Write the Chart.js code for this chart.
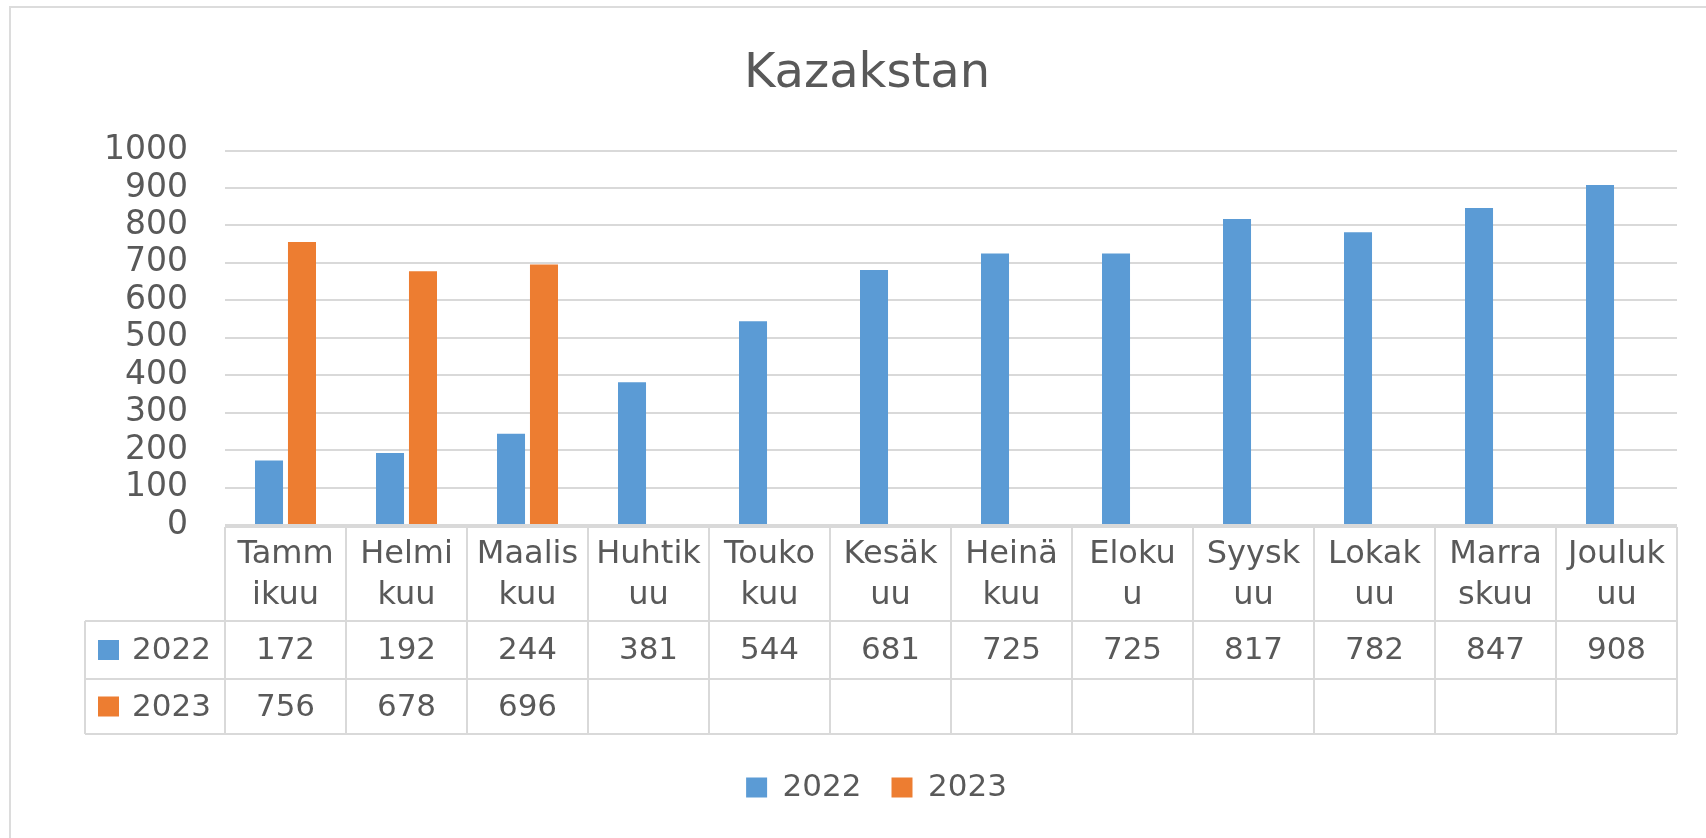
<!DOCTYPE html>
<html>
<head>
<meta charset="utf-8">
<script src="https://cdn.jsdelivr.net/npm/chart.js@4.4.1/dist/chart.umd.min.js"></script>
<style>
body { margin: 0; background: #fff; }
canvas { display: block; }
</style>
</head>
<body>
<canvas id="kazakstanChart" width="1706" height="838"></canvas>
<script>
var monthLabels = [['Tamm', 'ikuu'], ['Helmi', 'kuu'], ['Maalis', 'kuu'], ['Huhtik', 'uu'], ['Touko', 'kuu'], ['Kesäk', 'uu'],
    ['Heinä', 'kuu'], ['Eloku', 'u'], ['Syysk', 'uu'], ['Lokak', 'uu'], ['Marra', 'skuu'], ['Jouluk', 'uu']];
var seriesNames = ['2022', '2023'];
var values2022 = [172, 192, 244, 381, 544, 681, 725, 725, 817, 782, 847, 908];
var values2023 = [756, 678, 696, null, null, null, null, null, null, null, null, null];
var yMin = 0, yMax = 1000, yStep = 100;

var seriesColors = ['#5b9bd5', '#ed7d31'];
var textColor = '#595959';
var lineColor = '#d9d9d9';
var fontFamily = '"DejaVu Sans", sans-serif';

var kazakstanChart = document.getElementById('kazakstanChart').getContext('2d');

// draws the Excel-like data table under the plot, using the x scale for columns
var dataTablePlugin = {
    id: 'dataTable',
    afterLayout: function (chart) {
        // title and legend in the reference sit a bit right of the canvas middle
        chart.titleBlock.left += 57;
        chart.legend.left += 76;
    },
    afterDraw: function (chart) {
        var ctx = chart.ctx;
        var area = chart.chartArea;
        var xScale = chart.scales.x;
        var n = chart.data.labels.length;
        var cellW = (area.right - area.left) / n;
        var headTop = area.bottom + 2;
        var headBottom = headTop + 94;
        var row1Bottom = headBottom + 58;
        var row2Bottom = row1Bottom + 55;
        var labelLeft = 85;

        ctx.save();
        ctx.strokeStyle = lineColor;
        ctx.lineWidth = 2;
        ctx.beginPath();
        ctx.moveTo(area.left, headTop); ctx.lineTo(area.right, headTop);
        ctx.moveTo(labelLeft, headBottom); ctx.lineTo(area.right, headBottom);
        ctx.moveTo(labelLeft, row1Bottom); ctx.lineTo(area.right, row1Bottom);
        ctx.moveTo(labelLeft, row2Bottom); ctx.lineTo(area.right, row2Bottom);
        ctx.moveTo(labelLeft, headBottom); ctx.lineTo(labelLeft, row2Bottom);
        for (var i = 0; i <= n; i++) {
            var lx = area.left + i * cellW;
            ctx.moveTo(lx, headTop); ctx.lineTo(lx, row2Bottom);
        }
        ctx.stroke();

        ctx.fillStyle = textColor;
        ctx.textAlign = 'center';
        ctx.textBaseline = 'middle';
        var rowMids = [(headBottom + row1Bottom) / 2, (row1Bottom + row2Bottom) / 2];
        chart.data.labels.forEach(function (lab, i) {
            var cx = xScale.getPixelForValue(i);
            ctx.font = '32px ' + fontFamily;
            ctx.fillText(lab[0], cx, headTop + 28);
            ctx.fillText(lab[1], cx, headTop + 69);
            ctx.font = '31px ' + fontFamily;
            chart.data.datasets.forEach(function (ds, d) {
                if (ds.data[i] !== null) {
                    ctx.fillText(String(ds.data[i]), cx, rowMids[d] + 1);
                }
            });
        });

        ctx.textAlign = 'left';
        ctx.font = '31px ' + fontFamily;
        chart.data.datasets.forEach(function (ds, d) {
            ctx.fillStyle = ds.backgroundColor;
            ctx.fillRect(labelLeft + 13, rowMids[d] - 10, 21, 20);
            ctx.fillStyle = textColor;
            ctx.fillText(ds.label, labelLeft + 47, rowMids[d] + 1);
        });
        ctx.restore();
    }
};

var framePlugin = {
    id: 'frame',
    beforeDraw: function (chart) {
        var ctx = chart.ctx;
        ctx.save();
        ctx.fillStyle = '#ffffff';
        ctx.fillRect(0, 0, chart.width, chart.height);
        ctx.strokeStyle = '#dcdcdc';
        ctx.lineWidth = 2;
        ctx.beginPath();
        ctx.moveTo(10, chart.height);
        ctx.lineTo(10, 7);
        ctx.lineTo(chart.width, 7);
        ctx.stroke();
        ctx.restore();
    }
};

var newChart = new Chart(kazakstanChart, {
    type: 'bar',
    data: {
        labels: monthLabels,
        datasets: [{
            label: seriesNames[0],
            data: values2022,
            backgroundColor: seriesColors[0],
            categoryPercentage: 0.545,
            barPercentage: 0.85
        }, {
            label: seriesNames[1],
            data: values2023,
            backgroundColor: seriesColors[1],
            categoryPercentage: 0.545,
            barPercentage: 0.85
        }]
    },
    options: {
        responsive: false,
        animation: false,
        devicePixelRatio: 1,
        layout: {
            padding: { left: 0, right: 29, top: 0, bottom: 25 }
        },
        scales: {
            x: {
                grid: { display: false },
                border: { display: false },
                ticks: { display: false },
                afterFit: function (scale) { scale.height = 217; }
            },
            y: {
                min: yMin,
                max: yMax,
                ticks: {
                    stepSize: yStep,
                    autoSkip: false,
                    color: textColor,
                    padding: 37,
                    font: { family: fontFamily, size: 33 },
                    callback: function (value) { return String(value); }
                },
                grid: { color: lineColor, lineWidth: 2, drawTicks: false },
                border: { display: false },
                afterFit: function (scale) { scale.width = 225; }
            }
        },
        plugins: {
            title: {
                display: true,
                text: 'Kazakstan',
                color: textColor,
                font: { family: fontFamily, size: 48, weight: 'normal' },
                padding: { top: 46, bottom: 47 }
            },
            legend: {
                position: 'bottom',
                labels: {
                    boxWidth: 21,
                    boxHeight: 20,
                    padding: 30,
                    color: textColor,
                    font: { family: fontFamily, size: 31 }
                }
            },
            tooltip: { enabled: false }
        }
    },
    plugins: [framePlugin, dataTablePlugin]
});
</script>
</body>
</html>
